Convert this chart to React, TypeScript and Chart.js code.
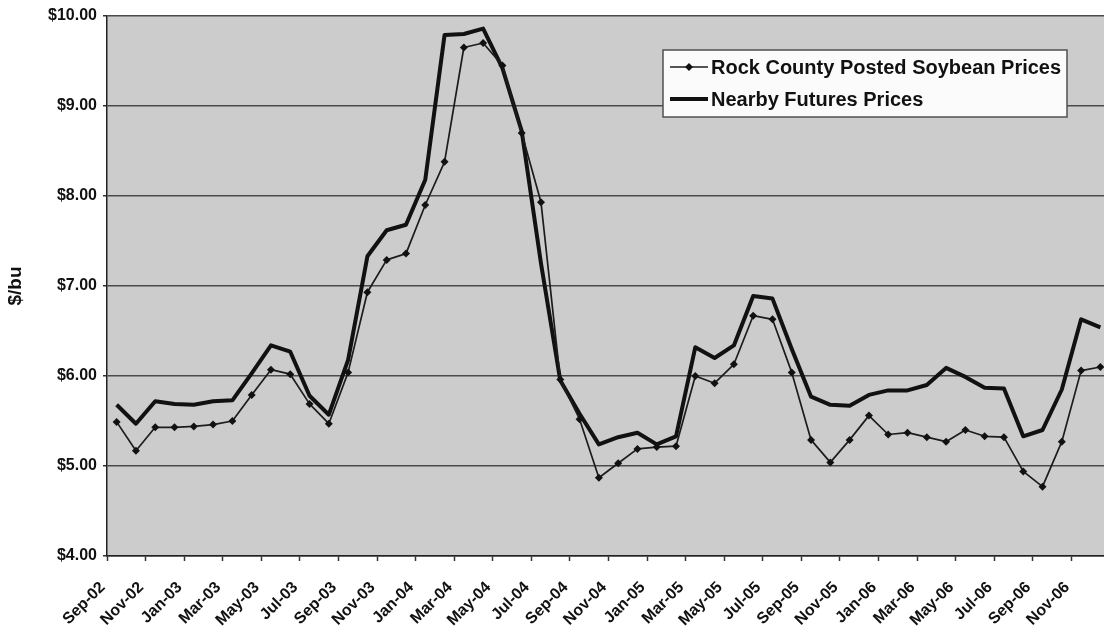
import React, { useEffect, useRef } from 'react';
import { Chart, registerables } from 'chart.js';

Chart.register(...registerables);

const FONT = '"Liberation Sans", Arial, Helvetica, sans-serif';

const months: string[] = [
  'Sep-02', 'Oct-02', 'Nov-02', 'Dec-02',
  'Jan-03', 'Feb-03', 'Mar-03', 'Apr-03', 'May-03', 'Jun-03', 'Jul-03', 'Aug-03', 'Sep-03', 'Oct-03', 'Nov-03', 'Dec-03',
  'Jan-04', 'Feb-04', 'Mar-04', 'Apr-04', 'May-04', 'Jun-04', 'Jul-04', 'Aug-04', 'Sep-04', 'Oct-04', 'Nov-04', 'Dec-04',
  'Jan-05', 'Feb-05', 'Mar-05', 'Apr-05', 'May-05', 'Jun-05', 'Jul-05', 'Aug-05', 'Sep-05', 'Oct-05', 'Nov-05', 'Dec-05',
  'Jan-06', 'Feb-06', 'Mar-06', 'Apr-06', 'May-06', 'Jun-06', 'Jul-06', 'Aug-06', 'Sep-06', 'Oct-06', 'Nov-06', 'Dec-06',
];

const rockCountyPrices: number[] = [
  5.49, 5.17, 5.43, 5.43, 5.44, 5.46, 5.50, 5.79, 6.07, 6.02, 5.69, 5.47, 6.04,
  6.93, 7.29, 7.36, 7.90, 8.38, 9.65, 9.70, 9.45, 8.70, 7.93,
  5.96, 5.52, 4.87, 5.03, 5.19, 5.21, 5.22, 6.00, 5.92,
  6.13, 6.67, 6.63, 6.04, 5.29, 5.04, 5.29, 5.56, 5.35, 5.37, 5.32, 5.27, 5.40, 5.33, 5.32, 4.94, 4.77, 5.27, 6.06, 6.10,
];

const nearbyFuturesPrices: number[] = [
  5.68, 5.47, 5.72, 5.69, 5.68, 5.72, 5.73, 6.03, 6.34, 6.27, 5.78, 5.57, 6.18,
  7.33, 7.62, 7.68, 8.18, 9.79, 9.80, 9.86, 9.42, 8.72, 7.25,
  5.95, 5.58, 5.24, 5.32, 5.37, 5.24, 5.33, 6.32, 6.20,
  6.34, 6.89, 6.86, 6.30, 5.77, 5.68, 5.67, 5.79, 5.84, 5.84, 5.90, 6.09, 5.99, 5.87, 5.86, 5.33, 5.40, 5.85, 6.63, 6.54,
];

const seriesNames: string[] = ['Rock County Posted Soybean Prices', 'Nearby Futures Prices'];

const yMin = 4;
const yMax = 10;
const yStep = 1;

const plotBackground = {
  id: 'plotBackground',
  beforeDraw(chart: any) {
    const { ctx, chartArea } = chart;
    ctx.save();
    ctx.fillStyle = '#ffffff';
    ctx.fillRect(0, 0, chart.width, chart.height);
    ctx.fillStyle = '#cccccc';
    ctx.fillRect(chartArea.left, chartArea.top, chartArea.right - chartArea.left, chartArea.bottom - chartArea.top);
    ctx.restore();
  },
};

const boxLegend = {
  id: 'boxLegend',
  afterDraw(chart: any) {
    const { ctx } = chart;
    const x0 = 663;
    const y0 = 50;
    const w = 404;
    const h = 67;
    ctx.save();
    ctx.fillStyle = '#fbfbfb';
    ctx.fillRect(x0, y0, w, h);
    ctx.strokeStyle = '#505050';
    ctx.lineWidth = 1.5;
    ctx.strokeRect(x0, y0, w, h);
    chart.data.datasets.forEach((ds: any, i: number) => {
      const y = y0 + 17 + i * 32;
      ctx.strokeStyle = ds.borderColor;
      ctx.lineWidth = ds.borderWidth;
      ctx.beginPath();
      ctx.moveTo(x0 + 7, y);
      ctx.lineTo(x0 + 45, y);
      ctx.stroke();
      if (ds.pointRadius > 0) {
        const cx = x0 + 26;
        const r = ds.pointRadius;
        ctx.fillStyle = ds.pointBackgroundColor;
        ctx.beginPath();
        ctx.moveTo(cx, y - r);
        ctx.lineTo(cx + r, y);
        ctx.lineTo(cx, y + r);
        ctx.lineTo(cx - r, y);
        ctx.closePath();
        ctx.fill();
      }
      ctx.fillStyle = '#111111';
      ctx.font = `bold 20px ${FONT}`;
      ctx.textBaseline = 'middle';
      ctx.textAlign = 'left';
      ctx.fillText(ds.label, x0 + 48, y + 1);
    });
    ctx.restore();
  },
};

export default function App() {
  const canvasRef = useRef<HTMLCanvasElement | null>(null);

  useEffect(() => {
    if (!canvasRef.current) return;
    const chart = new Chart(canvasRef.current, {
      type: 'line',
      data: {
        labels: months,
        datasets: [
          {
            label: seriesNames[0],
            data: rockCountyPrices,
            borderColor: '#1c1c1c',
            borderWidth: 1.7,
            pointStyle: 'rectRot',
            pointRadius: 4,
            pointBackgroundColor: '#111111',
            pointBorderWidth: 0,
            tension: 0,
            borderJoinStyle: 'round',
          },
          {
            label: seriesNames[1],
            data: nearbyFuturesPrices,
            borderColor: '#111111',
            borderWidth: 4,
            pointRadius: 0,
            tension: 0,
            borderJoinStyle: 'round',
          },
        ],
      },
      options: {
        responsive: false,
        animation: false,
        devicePixelRatio: 1,
        layout: { padding: { top: 16, left: 0, right: 0, bottom: 0 } },
        plugins: {
          legend: { display: false },
          tooltip: { enabled: false },
        },
        scales: {
          x: {
            type: 'category',
            offset: true,
            afterFit: (scale: any) => {
              scale.height = 86;
            },
            grid: {
              offset: true,
              drawOnChartArea: false,
              drawTicks: true,
              tickLength: 5,
              tickWidth: 1.5,
              tickColor: (c: any) => (c.index % 2 === 0 ? '#333333' : 'rgba(0,0,0,0)'),
            },
            border: { display: true, color: '#222222', width: 1.5 },
            ticks: {
              autoSkip: false,
              maxRotation: 45,
              minRotation: 45,
              padding: 17,
              labelOffset: -14,
              color: '#111111',
              font: { family: FONT, size: 16, weight: 'bold' },
              callback: (_v: any, index: number) => (index % 2 === 0 ? months[index] : ''),
            },
          },
          y: {
            min: yMin,
            max: yMax,
            afterFit: (scale: any) => {
              scale.width = 107;
            },
            grid: {
              color: '#4a4a4a',
              lineWidth: 1.5,
              drawTicks: true,
              tickLength: 4,
              tickColor: '#333333',
            },
            border: { display: true, color: '#222222', width: 1.5 },
            ticks: {
              stepSize: yStep,
              padding: 6,
              color: '#111111',
              font: { family: FONT, size: 16, weight: 'bold' },
              callback: (v: any) => '$' + Number(v).toFixed(2),
            },
            title: {
              display: true,
              text: '$/bu',
              color: '#111111',
              font: { family: FONT, size: 19, weight: 'bold' },
              padding: { top: 4, bottom: 0 },
            },
          },
        },
      },
      plugins: [plotBackground, boxLegend],
    } as any);
    return () => chart.destroy();
  }, []);

  return (
    <div
      style={{
        position: 'fixed',
        left: 0,
        top: 0,
        width: 1104,
        height: 642,
        overflow: 'hidden',
        background: '#ffffff',
      }}
    >
      <canvas ref={canvasRef} width={1131} height={642} style={{ width: 1131, height: 642, display: 'block' }} />
    </div>
  );
}
